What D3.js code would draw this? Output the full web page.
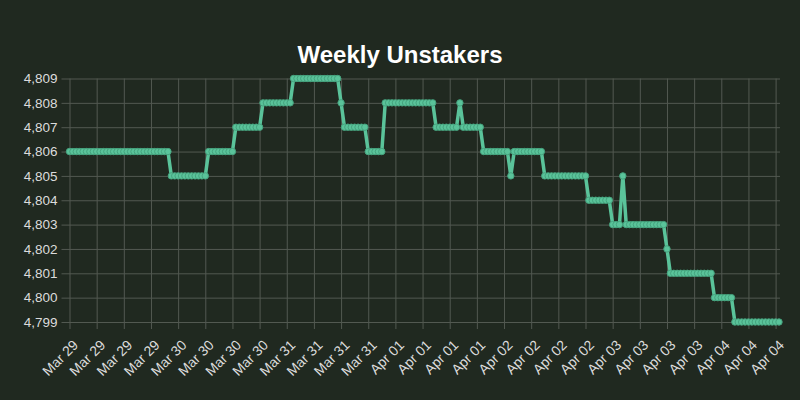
<!DOCTYPE html>
<html>
<head>
<meta charset="utf-8">
<script src="https://cdn.jsdelivr.net/npm/d3@7"></script>
<style>
  body { margin: 0; background: #202920; }
  svg { display: block; font-family: "Liberation Sans", Arial, sans-serif; }
</style>
</head>
<body>
<svg id="chart" width="800" height="400"></svg>
<script>
// unstaker count, one value per sample (ticks land on every 8th sample)
var values = [
  4806,4806,4806,4806,4806,4806,4806,4806,4806,4806,4806,4806,4806,4806,4806,4806,4806,4806,4806,4806,4806,4806,4806,4806,4806,4806,4806,4806,4806,4806,
  4805,4805,4805,4805,4805,4805,4805,4805,4805,4805,4805,
  4806,4806,4806,4806,4806,4806,4806,4806,
  4807,4807,4807,4807,4807,4807,4807,4807,
  4808,4808,4808,4808,4808,4808,4808,4808,4808,
  4809,4809,4809,4809,4809,4809,4809,4809,4809,4809,4809,4809,4809,4809,
  4808,
  4807,4807,4807,4807,4807,4807,4807,
  4806,4806,4806,4806,4806,
  4808,4808,4808,4808,4808,4808,4808,4808,4808,4808,4808,4808,4808,4808,4808,
  4807,4807,4807,4807,4807,4807,4807,
  4808,
  4807,4807,4807,4807,4807,4807,
  4806,4806,4806,4806,4806,4806,4806,4806,
  4805,
  4806,4806,4806,4806,4806,4806,4806,4806,4806,
  4805,4805,4805,4805,4805,4805,4805,4805,4805,4805,4805,4805,4805,
  4804,4804,4804,4804,4804,4804,4804,
  4803,4803,4803,
  4805,
  4803,4803,4803,4803,4803,4803,4803,4803,4803,4803,4803,4803,
  4802,
  4801,4801,4801,4801,4801,4801,4801,4801,4801,4801,4801,4801,4801,
  4800,4800,4800,4800,4800,4800,
  4799,4799,4799,4799,4799,4799,4799,4799,4799,4799,4799,4799,4799,4799
];

// x tick labels, one every tickStep samples
var tickLabels = [
  "Mar 29","Mar 29","Mar 29","Mar 29",
  "Mar 30","Mar 30","Mar 30","Mar 30",
  "Mar 31","Mar 31","Mar 31","Mar 31",
  "Apr 01","Apr 01","Apr 01","Apr 01",
  "Apr 02","Apr 02","Apr 02","Apr 02",
  "Apr 03","Apr 03","Apr 03","Apr 03",
  "Apr 04","Apr 04","Apr 04"
];
var tickStep = 8;
var yTicks = [4799,4800,4801,4802,4803,4804,4805,4806,4807,4808,4809];

var title = "Weekly Unstakers";

var svg = d3.select("#chart"),
    margin = {top: 78.5, right: 21, bottom: 78, left: 69.5},
    width = +svg.attr("width") - margin.left - margin.right,
    height = +svg.attr("height") - margin.top - margin.bottom;

var x = d3.scaleLinear().domain([0, values.length - 1]).range([0, width]);
var y = d3.scaleLinear().domain([4799, 4809]).range([height, 0]);

svg.append("text")
    .attr("x", 400)
    .attr("y", 63)
    .attr("text-anchor", "middle")
    .style("font-size", "24px")
    .style("font-weight", "bold")
    .style("fill", "#ffffff")
    .text(title);

var g = svg.append("g")
    .attr("transform", "translate(" + margin.left + "," + margin.top + ")");

var tickIdx = tickLabels.map(function(d, i) { return i * tickStep; });

// y axis + horizontal grid
var yAxis = g.append("g")
    .call(d3.axisLeft(y).tickValues(yTicks).tickFormat(d3.format(",")).tickSize(-width - 1).tickPadding(5).tickSizeOuter(0));
yAxis.select(".domain").remove();
yAxis.selectAll(".tick line").attr("x1", -8).attr("stroke", "#525951");
yAxis.selectAll(".tick text").style("font-size", "13.5px").style("fill", "#dcdcdc").attr("x", -12);

// x axis + vertical grid
var xAxis = g.append("g")
    .attr("transform", "translate(0," + height + ")")
    .call(d3.axisBottom(x).tickValues(tickIdx).tickFormat(function(d, i) { return tickLabels[i]; }).tickSize(-height).tickSizeOuter(0));
xAxis.select(".domain").remove();
xAxis.selectAll(".tick line").attr("y1", 7).attr("y2", -height).attr("stroke", "#525951");
xAxis.selectAll(".tick text")
    .style("font-size", "14px")
    .style("fill", "#dcdcdc")
    .attr("text-anchor", "end")
    .attr("y", 0)
    .attr("dy", 0)
    .attr("transform", "translate(9,24) rotate(-45)");

var line = d3.line()
    .x(function(d, i) { return x(i); })
    .y(function(d) { return y(d); });

g.append("path")
    .datum(values)
    .attr("fill", "none")
    .attr("stroke", "#5ac39a")
    .attr("stroke-width", 3.5)
    .attr("stroke-linejoin", "round")
    .attr("d", line);

g.append("g")
    .selectAll("circle")
    .data(values)
    .enter().append("circle")
    .attr("cx", function(d, i) { return x(i); })
    .attr("cy", function(d) { return y(d); })
    .attr("r", 3.2)
    .attr("fill", "#5ac39a")
    .attr("stroke", "#45a37e")
    .attr("stroke-width", 1);
</script>
</body>
</html>
